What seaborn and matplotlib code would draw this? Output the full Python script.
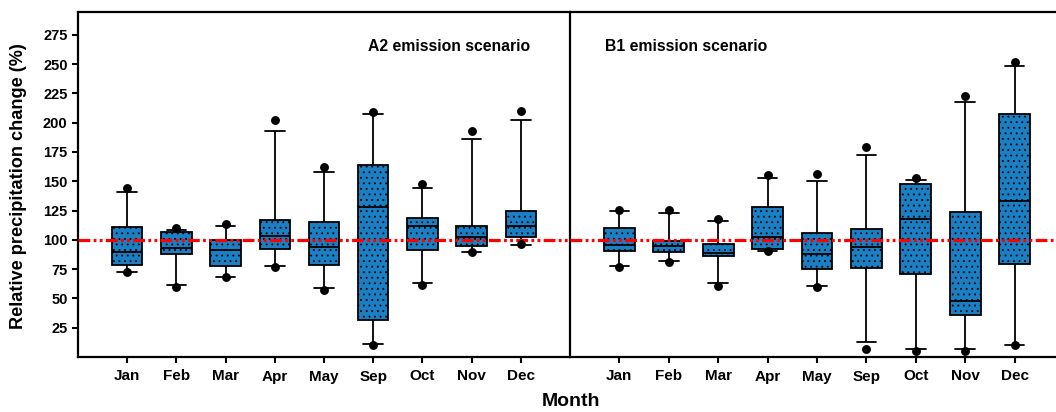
import numpy as np
import pandas as pd
import matplotlib
matplotlib.use("Agg")
import matplotlib.pyplot as plt
import seaborn as sns

months = ["Jan", "Feb", "Mar", "Apr", "May", "Sep", "Oct", "Nov", "Dec"]

# A2 emission scenario: whisker ends, quartiles, medians, extreme points
a2_whislo = [72.2, 61.4, 68.7, 77.3, 58.5, 11.1, 62.8, 89.8, 95.7]
a2_q1 = [78.7, 88.3, 77.8, 92.6, 78.7, 31.8, 91.5, 94.9, 102.8]
a2_med = [90.0, 92.7, 91.5, 103.1, 93.5, 128.4, 111.4, 102.3, 112.2]
a2_q3 = [110.7, 106.5, 99.7, 116.8, 115.6, 163.9, 119.0, 112.2, 124.4]
a2_whishi = [141.2, 108.5, 111.4, 193.2, 158.0, 207.6, 144.6, 186.1, 202.5]
a2_dot_lo = [72.2, 60.0, 68.7, 77.0, 56.8, 10.5, 61.1, 89.8, 96.3]
a2_dot_hi = [144.5, 109.7, 113.4, 202.3, 162.5, 209.4, 148.0, 193.2, 210.2]

# B1 emission scenario
b1_whislo = [77.3, 82.1, 62.8, 90.9, 60.2, 12.5, 6.8, 6.8, 10.2]
b1_q1 = [90.6, 89.8, 86.4, 92.0, 75.0, 75.6, 70.7, 35.5, 79.5]
b1_med = [95.7, 94.9, 88.4, 102.3, 87.8, 94.0, 117.6, 47.4, 133.0]
b1_q3 = [110.0, 99.1, 96.6, 128.4, 105.7, 109.6, 147.7, 123.6, 207.4]
b1_whishi = [125.0, 122.7, 116.2, 152.6, 150.6, 172.7, 151.1, 217.6, 248.6]
b1_dot_lo = [77.0, 81.5, 60.8, 90.6, 59.7, 7.1, 5.4, 5.4, 10.2]
b1_dot_hi = [125.6, 125.3, 118.2, 155.4, 156.0, 179.0, 152.6, 222.7, 252.0]

yticks = [25, 50, 75, 100, 125, 150, 175, 200, 225, 250, 275]
baseline = 100

sns.set_style("ticks")
plt.rcParams["font.family"] = ["Liberation Sans", "DejaVu Sans"]
plt.rcParams["font.weight"] = "bold"
plt.rcParams["hatch.linewidth"] = 0.6
plt.rcParams["lines.scale_dashes"] = False
for k in ("text.color", "axes.labelcolor", "xtick.color", "ytick.color",
          "axes.edgecolor"):
    plt.rcParams[k] = "black"

BLUE = "#1a7fc3"


def five_num_frame(lo, q1, med, q3, hi):
    rows = []
    for m, a, b, c, d, e in zip(months, lo, q1, med, q3, hi):
        for v in (a, b, c, d, e):
            rows.append({"month": m, "value": v})
    return pd.DataFrame(rows)


def dots_frame(lo, hi):
    rows = []
    for m, a, b in zip(months, lo, hi):
        rows.append({"month": m, "value": a})
        rows.append({"month": m, "value": b})
    return pd.DataFrame(rows)


W, H = 1056, 412
fig = plt.figure(figsize=(W / 100, H / 100), dpi=100)
bottom = (H - 357) / H
height = (357 - 12) / H
ax1 = fig.add_axes([78 / W, bottom, (570 - 78) / W, height])
ax2 = fig.add_axes([570 / W, bottom, 494 / W, height])

panels = [
    (ax1, (a2_whislo, a2_q1, a2_med, a2_q3, a2_whishi), (a2_dot_lo, a2_dot_hi), "A2 emission scenario", 0.755),
    (ax2, (b1_whislo, b1_q1, b1_med, b1_q3, b1_whishi), (b1_dot_lo, b1_dot_hi), "B1 emission scenario", 0.236),
]

for ax, stats, dots, title, tx in panels:
    df = five_num_frame(*stats)
    sns.boxplot(
        data=df, x="month", y="value", order=months, ax=ax,
        whis=(0, 100), width=0.62, color=BLUE, linecolor="black",
        linewidth=1.3, showfliers=False, saturation=1, capwidths=0.4,
    )
    for p in ax.patches:
        p.set_hatch("...")
        p.set_facecolor(BLUE)
        p.set_edgecolor("black")
    ax.axhline(baseline, color="red", lw=2.3,
               ls=(0, (8.5, 2.4, 2.0, 2.4, 2.0, 2.4)), zorder=6)
    ddf = dots_frame(*dots)
    sns.stripplot(data=ddf, x="month", y="value", order=months, ax=ax,
                  jitter=False, color="black", size=6.4, zorder=7)
    ax.set_xlim(-1, 9)
    ax.set_ylim(0, 294.5)
    ax.set_xlabel("")
    ax.set_ylabel("")
    ax.text(tx, 0.90, title, transform=ax.transAxes, ha="center", va="center",
            fontsize=11.3, fontweight="bold", color="black")
    for s in ax.spines.values():
        s.set_linewidth(1.6)
        s.set_color("black")
    ax.spines["right"].set_visible(False)
    ax.tick_params(axis="x", direction="out", length=4, width=1.5,
                   labelsize=11, pad=5, colors="black")
    for lab in ax.get_xticklabels():
        lab.set_fontweight("bold")

ax1.set_yticks(yticks)
ax1.set_yticklabels([str(t) for t in yticks], fontweight="bold")
ax1.tick_params(axis="y", direction="out", length=4, width=1.5, labelsize=10.5,
                colors="black")
ax2.set_yticks([])

fig.text(571 / W, 10 / H, "Month", ha="center", va="center",
         fontsize=14, fontweight="bold", color="black")
fig.text(19 / W, 226 / H, "Relative precipitation change (%)", ha="center",
         va="center", rotation=90, fontsize=13.1, fontweight="bold", color="black")

fig.savefig("out.png", dpi=100)
